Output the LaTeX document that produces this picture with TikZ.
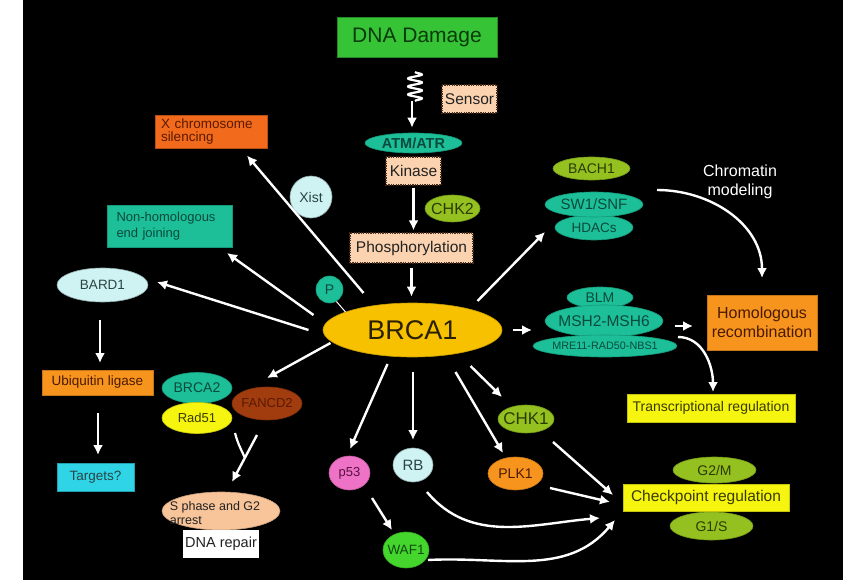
\documentclass[tikz,border=0pt]{standalone}
\usepackage{fontspec}
\setmainfont{Liberation Sans}
\usetikzlibrary{shapes.geometric,arrows.meta,calc,decorations.pathmorphing}
\definecolor{cDna}{HTML}{36C436}
\definecolor{cPeach}{HTML}{FBD3B0}
\definecolor{cDot}{HTML}{4A2E18}
\definecolor{cTeal}{HTML}{1CBF98}
\definecolor{cYG}{HTML}{94C11F}
\definecolor{cGold}{HTML}{F7C100}
\definecolor{cOrR}{HTML}{F26A1B}
\definecolor{cOr}{HTML}{F7941D}
\definecolor{cCyan}{HTML}{2FD5E6}
\definecolor{cLCyan}{HTML}{CFF3F3}
\definecolor{cYel}{HTML}{F5F50F}
\definecolor{cBrown}{HTML}{A13C0E}
\definecolor{cPink}{HTML}{EE72C6}
\definecolor{cGreen}{HTML}{44D62C}
\definecolor{cPeachB}{HTML}{F8C49A}
\definecolor{tTeal}{HTML}{0A4A3C}
\definecolor{tYG}{HTML}{2B3B00}
\definecolor{tOr}{HTML}{4A1A00}
\definecolor{tYel}{HTML}{3A3A00}
\definecolor{tDark}{HTML}{222222}
\definecolor{tCy}{HTML}{2A4444}
\definecolor{tBr}{HTML}{5A1A00}
\definecolor{tPink}{HTML}{5A1040}
\definecolor{tGrn}{HTML}{104A10}
\definecolor{tGold}{HTML}{2A2000}
\definecolor{tDna}{HTML}{0A3A0A}
\newcommand\zb[1]{\makebox[0pt]{#1}}
\newcommand\fsz[2]{\fontsize{#1}{#2}\selectfont}
\begin{document}
\begin{tikzpicture}[x=1pt,y=-1pt,
  box/.style={rectangle, inner sep=2pt, align=center},
  ell/.style={ellipse, inner sep=0pt, align=center},
  dotbox/.style={box, fill=cPeach, draw=cDot, dash pattern=on 1.2pt off 1.2pt, line width=1.2pt, text=tDark},
  tealsh/.style={fill=cTeal, draw=cTeal!80!black, line width=0.6pt, text=tTeal},
  ygsh/.style={fill=cYG, draw=cYG!80!black, line width=0.6pt, text=tYG},
  orsh/.style={fill=cOr, draw=cOr!80!black, line width=0.6pt, text=tOr},
  yelsh/.style={fill=cYel, draw=cYel!80!black, line width=0.6pt, text=tYel},
  lcysh/.style={fill=cLCyan, draw=cLCyan!70!black, line width=0.6pt, text=tCy},
  arr/.style={draw=white, line width=2.4pt, -{Latex[length=10pt,width=10pt]}},
  wire/.style={draw=white, line width=2.2pt},
]
\useasboundingbox (0,0) rectangle (843,580);
\fill[white] (0,0) rectangle (23,580);
\fill[black] (23,0) rectangle (843,580);

% top chain
\node[box, fill=cDna, draw=cDna!70!black, minimum width=160, minimum height=40, text=tDna, font=\fsz{21}{24}] (dna) at (417,37) {DNA Damage};
\node[dotbox, minimum width=55, minimum height=28, font=\fsz{15.5}{17}] (sensor) at (469.5,99) {Sensor};
\node[ell, tealsh, minimum width=97, minimum height=20, font=\bfseries\fsz{14.5}{16}] (atm) at (413.5,143) {\zb{ATM/ATR}};
\node[dotbox, minimum width=55, minimum height=28, font=\fsz{15.5}{17}] (kin) at (413.5,171) {Kinase};
\node[ell, ygsh, minimum width=55, minimum height=27, font=\fsz{16}{18}] (chk2) at (452.5,208.5) {\zb{CHK2}};
\node[dotbox, minimum width=123, minimum height=30, font=\fsz{15.5}{17}] (phos) at (411.5,248) {Phosphorylation};

% BRCA1
\node[ell, fill=cGold, draw=cGold!80!black, line width=0.6pt, minimum width=179, minimum height=54, font=\fsz{27}{30}, text=tGold] (brca1) at (412.5,330) {\zb{BRCA1}};
\node[circle, inner sep=0pt, tealsh, minimum size=27, font=\fsz{14}{16}] (P) at (329.5,289.5) {P};

% left side
\node[circle, inner sep=0pt, lcysh, minimum size=42, font=\fsz{14}{16}] (xist) at (311,197) {Xist};
\node[box, fill=cOrR, draw=cOrR!75!black, line width=0.6pt, minimum height=33, text width=100, inner xsep=6, align=left, font=\fsz{13.5}{13.5}, text=tBr] (xchr) at (211,131.5) {X chromosome\\silencing};
\node[box, tealsh, minimum height=42, text width=106, inner xsep=9.5, align=left, font=\fsz{13}{16}] (nhej) at (169.5,226) {Non-homologous\\end joining};
\node[ell, lcysh, minimum width=91, minimum height=34, font=\fsz{13.5}{15}] (bard1) at (102.5,285) {\zb{BARD1}};
\node[box, orsh, minimum width=111, minimum height=25, font=\fsz{13.5}{15}] (ubiq) at (97.5,382.5) {Ubiquitin ligase};
\node[box, fill=cCyan, draw=cCyan!75!black, line width=0.6pt, minimum width=77, minimum height=28, font=\fsz{13.5}{15}, text=tCy] (targ) at (95.5,477) {Targets?};

\node[ell, tealsh, minimum width=70, minimum height=31, font=\fsz{14}{16}] (brca2) at (197,388) {\zb{BRCA2}};
\node[ell, yelsh, minimum width=70, minimum height=31, font=\fsz{13}{15}] (rad51) at (197,418) {\zb{Rad51}};
\node[ell, fill=cBrown, draw=cBrown!80!black, line width=0.6pt, minimum width=70, minimum height=33, font=\fsz{13}{15}, text=tBr] (fancd2) at (267,403.5) {\zb{FANCD2}};
\node[ell, fill=cPeachB, draw=cPeachB!80!black, line width=0.6pt, minimum width=118, minimum height=38] (sphase) at (221,511) {};
\node[align=left, inner sep=0pt, font=\fsz{12.5}{13.5}, text=tDark] (sphlbl) at (215,513) {S phase and G2\\arrest};
\node[box, fill=white, minimum width=76, minimum height=28, font=\fsz{14.5}{16}, text=tDark] (dnarep) at (221,544) {DNA repair};

% bottom middle
\node[ell, fill=cPink, draw=cPink!80!black, line width=0.6pt, minimum width=41, minimum height=34, font=\fsz{13}{15}, text=tPink] (p53) at (349.5,473) {\zb{p53}};
\node[ell, fill=cGreen, draw=cGreen!80!black, line width=0.6pt, minimum width=46, minimum height=36, font=\fsz{13.5}{15}, text=tGrn] (waf1) at (406,550) {\zb{WAF1}};
\node[ell, lcysh, minimum width=40, minimum height=34, font=\fsz{15}{17}] (rb) at (413,465) {\zb{RB}};
\node[ell, orsh, minimum width=55, minimum height=33, font=\fsz{14}{16}] (plk1) at (515.5,473.5) {\zb{PLK1}};
\node[ell, ygsh, minimum width=56, minimum height=28, font=\fsz{17}{19}] (chk1) at (526,419) {\zb{CHK1}};

% right bottom
\node[ell, ygsh, minimum width=83, minimum height=26, font=\fsz{14}{16}] (g2m) at (714.5,470) {\zb{G2/M}};
\node[ell, ygsh, minimum width=83, minimum height=28, font=\fsz{14}{16}] (g1s) at (711.5,526) {\zb{G1/S}};
\node[box, yelsh, minimum width=166, minimum height=27, font=\fsz{15.5}{17}] (chkreg) at (706,497.5) {Checkpoint regulation};
\node[box, yelsh, minimum width=168, minimum height=28, font=\fsz{14}{16}] (trans) at (711,408) {Transcriptional regulation};

% right top
\node[ell, ygsh, minimum width=77, minimum height=23, font=\fsz{14}{16}] (bach1) at (591.5,168.5) {\zb{BACH1}};
\node[ell, tealsh, minimum width=78, minimum height=25, font=\fsz{13.5}{15}] (hdacs) at (594,227.5) {\zb{HDACs}};
\node[ell, tealsh, minimum width=98, minimum height=25, font=\fsz{15}{17}] (swi) at (594,204.5) {\zb{SW1/SNF}};
\node[text=white, align=center, inner sep=0pt, font=\fsz{16}{18.5}] (chrom) at (740,182) {Chromatin\\modeling};
\node[ell, tealsh, minimum width=66, minimum height=21, font=\fsz{14}{16}] (blm) at (600,297.5) {\zb{BLM}};
\node[ell, tealsh, minimum width=118, minimum height=32, font=\fsz{15.5}{17}] (msh) at (604,321) {\zb{MSH2-MSH6}};
\node[ell, tealsh, minimum width=144, minimum height=22, font=\fsz{10.8}{12}] (mre) at (605,346) {\zb{MRE11-RAD50-NBS1}};
\node[box, orsh, minimum width=110, minimum height=55, font=\fsz{16}{18.5}] (homrec) at (762,322.5) {Homologous\\recombination};

% connectors
\coordinate (sq) at (415,72);
\coordinate (sqe) at (415,101);
\coordinate (sqa) at (412,101);
\draw[wire, line width=2.2pt, line join=round, decorate, decoration={snake, amplitude=7pt, segment length=8pt}] (sq) -- (sqe);
\draw[arr, shorten >=5pt] (sqa) -- (sqa |- atm.north);
\draw[arr, shorten <=2pt, shorten >=2pt] (kin.south) -- (kin.south |- phos.north);
\draw[arr, shorten <=4pt, shorten >=6pt] (phos.south) -- (phos.south |- brca1.north);
\draw[white, line width=1pt] (P.-60) -- ($(brca1)+(-67,-18)$);

\draw[arr] ($(brca1)+(-49,-37)$) -- ($(xchr)+(36,24)$);
\draw[arr] ($(brca1)+(-99,-15)$) -- ($(nhej)+(57.5,27)$);
\draw[arr] ($(brca1)+(-104,0)$) -- ($(bard1)+(54.5,-3)$);
\draw[arr] ($(brca1)+(-82,13)$) -- ($(fancd2)+(0,-25.5)$);
\draw[arr] ($(brca1)+(-25,34)$) -- ($(p53)+(0.5,-24)$);
\draw[arr] ($(brca1)+(0.5,42)$) -- ($(rb)+(0,-25)$);
\draw[arr] ($(brca1)+(43,42)$) -- ($(plk1)+(-12.5,-20.5)$);
\draw[arr] ($(brca1)+(58,36)$) -- ($(chk1)+(-24,-22)$);
\draw[arr] ($(brca1)+(100,0)$) -- ($(msh)+(-72,9)$);
\draw[arr] ($(msh)+(71,5)$) -- ($(homrec)+(-69,3.5)$);
\draw[arr] ($(brca1)+(65,-29)$) -- ($(swi)+(-49,27.5)$);
\draw[arr] ($(p53)+(22.5,25)$) -- ($(waf1)+(-14,-20)$);
\draw[arr] ($(bard1)+(-2.5,35)$) -- ($(ubiq)+(2.5,-19.5)$);
\draw[arr] ($(ubiq)+(0.5,30.5)$) -- ($(targ)+(2.5,-22)$);

\coordinate (yj) at (245,458);
\draw[wire] ($(rad51)+(38,15)$) to[out=-75,in=115] (yj);
\draw[arr] ($(fancd2)+(-10,31.5)$) -- ($(sphase)+(11,-29)$);

\draw[arr] ($(chk1)+(27,23)$) -- ($(chkreg)+(-93,-2.5)$);
\draw[arr] ($(plk1)+(34.5,14.5)$) -- ($(chkreg)+(-96,4.5)$);
\draw[arr] ($(rb)+(14,27)$) to[out=-50,in=185] ($(chkreg)+(-106,20.5)$);
\draw[arr] ($(waf1)+(22,10)$) to[out=3,in=-130] ($(chkreg)+(-91,22.5)$);
\draw[arr] ($(swi)+(63,-14.5)$) to[out=0,in=90] ($(homrec)+(0,-44.5)$);
\draw[arr] ($(mre)+(73,-9)$) to[out=0,in=90] ($(trans)+(2,-16)$);
\end{tikzpicture}
\end{document}
